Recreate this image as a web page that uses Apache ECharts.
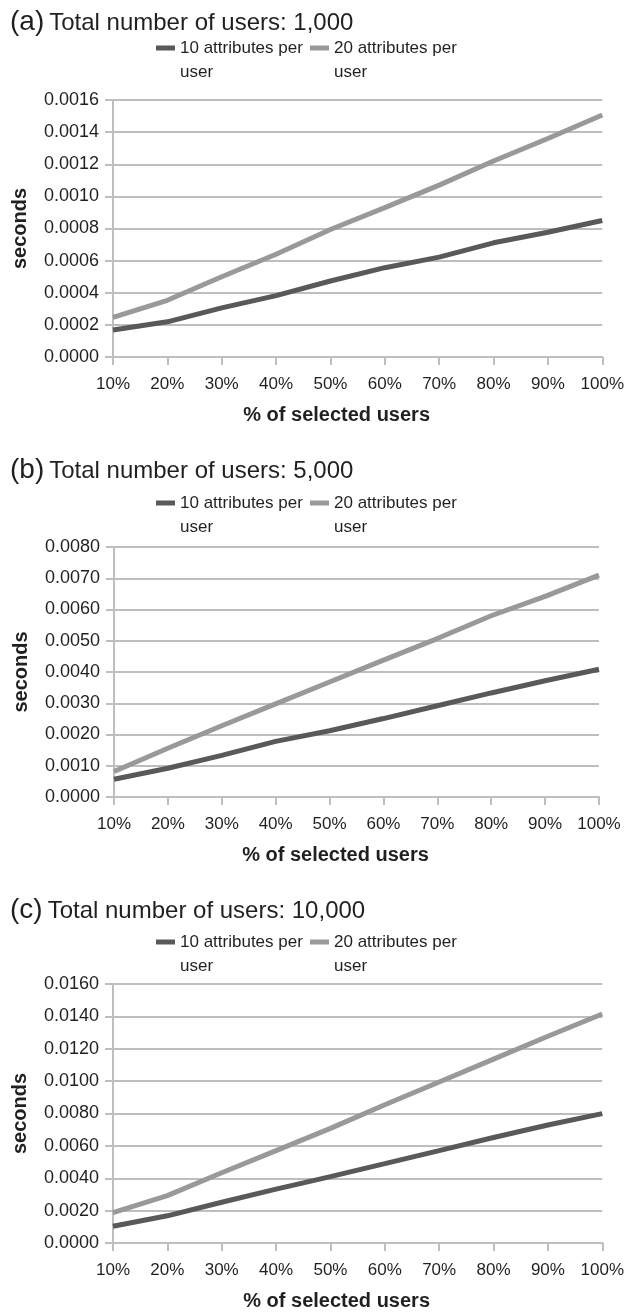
<!DOCTYPE html>
<html>
<head>
<meta charset="utf-8">
<script src="https://cdn.jsdelivr.net/npm/echarts@6/dist/echarts.min.js"></script>
<style>
  html, body { margin: 0; padding: 0; background: #ffffff; }
  #chart { width: 627px; height: 1312px; }
</style>
</head>
<body>
<div id="chart"></div>
<script>
// Percentage of selected users (shared x categories)
const categories = ['10%', '20%', '30%', '40%', '50%', '60%', '70%', '80%', '90%', '100%'];

// Seconds, 1,000 users
const users1k_attr10 = [0.000168, 0.000219, 0.000306, 0.000382, 0.000473, 0.000556, 0.000622, 0.000711, 0.000777, 0.00085];
const users1k_attr20 = [0.000246, 0.000353, 0.000500, 0.00064, 0.000794, 0.00093, 0.00107, 0.00122, 0.00136, 0.001507];

// Seconds, 5,000 users
const users5k_attr10 = [0.000567, 0.00092, 0.00133, 0.00178, 0.00212, 0.00251, 0.00292, 0.00333, 0.00372, 0.00409];
const users5k_attr20 = [0.000814, 0.00156, 0.00228, 0.00298, 0.00368, 0.00438, 0.00507, 0.0058, 0.00642, 0.0071];

// Seconds, 10,000 users
const users10k_attr10 = [0.00103, 0.00168, 0.00252, 0.00333, 0.0041, 0.0049, 0.00571, 0.00652, 0.00729, 0.00799];
const users10k_attr20 = [0.00188, 0.00293, 0.00434, 0.00571, 0.00708, 0.00854, 0.00995, 0.01136, 0.01277, 0.01415];

const seriesNames = ['10 attributes per user', '20 attributes per user'];
const panelTitles = [
  { tag: '(a)', text: 'Total number of users: 1,000' },
  { tag: '(b)', text: 'Total number of users: 5,000' },
  { tag: '(c)', text: 'Total number of users: 10,000' }
];
const yMax = [0.0016, 0.008, 0.016];
const yStep = [0.0002, 0.001, 0.002];
const panelData = [
  [users1k_attr10, users1k_attr20],
  [users5k_attr10, users5k_attr20],
  [users10k_attr10, users10k_attr20]
];

// Layout of each panel (pixels)
const layout = [
  { titleTop: 8,   legendTop: 12,  gridTop: 100, gridHeight: 257, left: 113, right: 24 },
  { titleTop: 456, legendTop: 467, gridTop: 547, gridHeight: 250, left: 114, right: 28 },
  { titleTop: 896, legendTop: 906, gridTop: 984, gridHeight: 266, left: 113, right: 24 }
];

const FONT = '"Liberation Sans", Arial, sans-serif';
const TEXT = '#231f20';
const GRID = '#bebebe';
const COLORS = ['#595959', '#999999'];

const titles = [], legends = [], grids = [], xAxes = [], yAxes = [], series = [];

layout.forEach((L, i) => {
  titles.push({
    left: 10,
    top: L.titleTop,
    padding: 0,
    text: '{p|' + panelTitles[i].tag + '} {t|' + panelTitles[i].text + '}',
    textStyle: {
      fontFamily: FONT,
      fontWeight: 'normal',
      rich: {
        p: { fontSize: 28, color: TEXT, fontFamily: FONT, fontWeight: 'normal' },
        t: { fontSize: 24, color: TEXT, fontFamily: FONT, fontWeight: 'normal', padding: [3, 0, 0, 0] }
      }
    }
  });

  // Legend entries: an empty first line keeps the swatch level with the first text line
  legends.push({
    left: 156,
    top: L.legendTop,
    padding: 0,
    orient: 'horizontal',
    itemWidth: 19,
    itemHeight: 5,
    itemGap: 7,
    icon: 'rect',
    selectedMode: false,
    data: seriesNames.map(n => n + ' #' + i),
    formatter: name => '\n' + name.replace(/ #\d$/, '').replace(' per ', ' per\n'),
    textStyle: {
      fontFamily: FONT,
      fontSize: 17,
      color: TEXT,
      lineHeight: 24,
      width: 123
    }
  });

  grids.push({
    left: L.left,
    right: L.right,
    top: L.gridTop,
    height: L.gridHeight,
    containLabel: false
  });

  xAxes.push({
    type: 'category',
    gridIndex: i,
    data: categories,
    boundaryGap: false,
    name: '% of selected users',
    nameLocation: 'middle',
    nameGap: 48,
    nameTextStyle: {
      fontFamily: FONT, fontSize: 20, fontWeight: 'bold', color: TEXT,
      padding: [0, 42, 0, 0]
    },
    axisLine: { lineStyle: { color: GRID, width: 2 } },
    axisTick: { show: true, interval: 0, length: 8, alignWithLabel: true, lineStyle: { color: GRID, width: 2 } },
    axisLabel: { interval: 0, hideOverlap: false, fontFamily: FONT, fontSize: 17, color: TEXT, margin: 19 },
    splitLine: { show: false }
  });

  yAxes.push({
    type: 'value',
    gridIndex: i,
    min: 0,
    max: yMax[i],
    interval: yStep[i],
    name: 'seconds',
    nameLocation: 'middle',
    nameGap: 83,
    nameRotate: 90,
    nameTextStyle: { fontFamily: FONT, fontSize: 20, fontWeight: 'bold', color: TEXT },
    axisLine: { show: true, lineStyle: { color: GRID, width: 2 } },
    axisTick: { show: true, length: 8, lineStyle: { color: GRID, width: 2 } },
    axisLabel: {
      fontFamily: FONT, fontSize: 18, color: TEXT, margin: 14,
      formatter: v => v.toFixed(4)
    },
    splitLine: { show: true, lineStyle: { color: GRID, width: 2 } }
  });

  panelData[i].forEach((vals, k) => {
    series.push({
      name: seriesNames[k] + ' #' + i,
      type: 'line',
      xAxisIndex: i,
      yAxisIndex: i,
      data: vals,
      showSymbol: false,
      symbol: 'none',
      lineStyle: { color: COLORS[k], width: 5 },
      itemStyle: { color: COLORS[k] },
      animation: false,
      z: 3 + k
    });
  });
});

const chart = echarts.init(document.getElementById('chart'), null, { renderer: 'canvas' });
chart.setOption({
  animation: false,
  backgroundColor: '#ffffff',
  title: titles,
  legend: legends,
  grid: grids,
  xAxis: xAxes,
  yAxis: yAxes,
  series: series
});
</script>
</body>
</html>
